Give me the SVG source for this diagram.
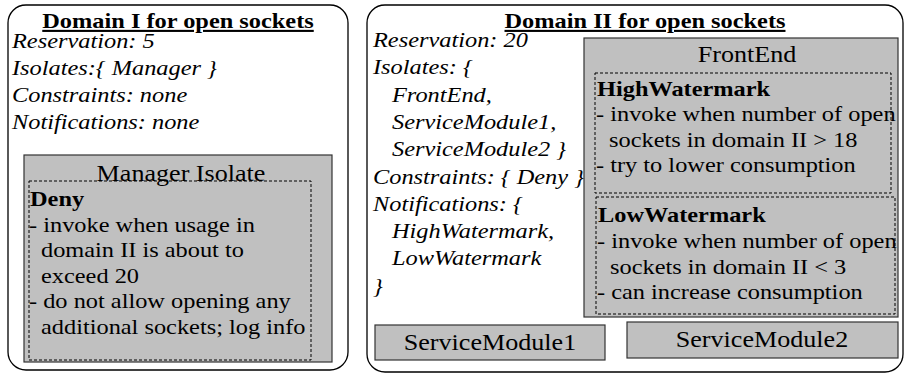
<svg xmlns="http://www.w3.org/2000/svg" width="908" height="375" viewBox="0 0 908 375">
<style>
text{font-family:Liberation Serif,serif;font-size:21px;fill:#000}
.i{font-style:italic}
.b{font-weight:bold}
.u{font-weight:bold;text-decoration:underline}
.big{font-size:22.5px}
.m{text-anchor:middle}
.dom{fill:#fff;stroke:#000;stroke-width:1.3}
.box{fill:#c0c0c0;stroke:#333;stroke-width:1.2}
.dash{fill:none;stroke:#000;stroke-width:1;stroke-dasharray:3 2}
</style>
<rect width="908" height="375" fill="#fff"/>
<g font-family="Liberation Serif, serif">
<g id="domain1">
<rect class="dom" x="8" y="5" width="340" height="365" rx="18"/>
<text class="u m" transform="translate(178,28) scale(1.16,1)">Domain I for open sockets</text>
<text class="i" transform="translate(12,48) scale(1.16,1)">Reservation: 5</text>
<text class="i" transform="translate(12,75) scale(1.16,1)">Isolates:{ Manager }</text>
<text class="i" transform="translate(12,102) scale(1.16,1)">Constraints: none</text>
<text class="i" transform="translate(12,129) scale(1.16,1)">Notifications: none</text>
</g>
<g id="manager-isolate">
<rect class="box" x="24" y="155" width="308" height="207"/>
<text class="big m" transform="translate(181,181) scale(1.16,1)">Manager Isolate</text>
<rect class="dash" x="29" y="181" width="282" height="179"/>
<text class="b" transform="translate(30,206) scale(1.16,1)">Deny</text>
<text transform="translate(29,231.5) scale(1.16,1)">- invoke when usage in</text>
<text transform="translate(41,257) scale(1.16,1)">domain II is about to</text>
<text transform="translate(41,282.5) scale(1.16,1)">exceed 20</text>
<text transform="translate(29,308) scale(1.16,1)">- do not allow opening any</text>
<text transform="translate(41,333.5) scale(1.16,1)">additional sockets; log info</text>
</g>
<g id="domain2">
<rect class="dom" x="367" y="5" width="536" height="367" rx="18"/>
<text class="u m" transform="translate(645,28) scale(1.16,1)">Domain II for open sockets</text>
<text class="i" transform="translate(373,47) scale(1.16,1)">Reservation: 20</text>
<text class="i" transform="translate(373,74.3) scale(1.16,1)">Isolates: {</text>
<text class="i" transform="translate(392,101.6) scale(1.16,1)">FrontEnd,</text>
<text class="i" transform="translate(392,128.9) scale(1.16,1)">ServiceModule1,</text>
<text class="i" transform="translate(392,156.2) scale(1.16,1)">ServiceModule2 }</text>
<text class="i" transform="translate(373,183.5) scale(1.16,1)">Constraints: { Deny }</text>
<text class="i" transform="translate(373,210.8) scale(1.16,1)">Notifications: {</text>
<text class="i" transform="translate(392,238.1) scale(1.16,1)">HighWatermark,</text>
<text class="i" transform="translate(392,265.4) scale(1.16,1)">LowWatermark</text>
<text class="i" transform="translate(373,292.7) scale(1.16,1)">}</text>
</g>
<g id="frontend">
<rect class="box" x="584" y="38" width="314" height="279"/>
<text class="big m" transform="translate(747,62) scale(1.16,1)">FrontEnd</text>
</g>
<g id="highwatermark">
<rect class="dash" x="595" y="73" width="296" height="120"/>
<text class="b" transform="translate(597,96) scale(1.16,1)">HighWatermark</text>
<text transform="translate(596,121) scale(1.16,1)">- invoke when number of open</text>
<text transform="translate(609,146.5) scale(1.16,1)">sockets in domain II &gt; 18</text>
<text transform="translate(596,172) scale(1.16,1)">- try to lower consumption</text>
</g>
<g id="lowwatermark">
<rect class="dash" x="596" y="197" width="299" height="117"/>
<text class="b" transform="translate(598,222) scale(1.16,1)">LowWatermark</text>
<text transform="translate(597,248) scale(1.16,1)">- invoke when number of open</text>
<text transform="translate(610,274) scale(1.16,1)">sockets in domain II &lt; 3</text>
<text transform="translate(597,299) scale(1.16,1)">- can increase consumption</text>
</g>
<g id="servicemodule1">
<rect class="box" x="375" y="325" width="230" height="35"/>
<text class="big m" transform="translate(490,350) scale(1.16,1)">ServiceModule1</text>
</g>
<g id="servicemodule2">
<rect class="box" x="627" y="322" width="271" height="36"/>
<text class="big m" transform="translate(762,347) scale(1.16,1)">ServiceModule2</text>
</g>
<g id="connectors"/>
</g>
</svg>
